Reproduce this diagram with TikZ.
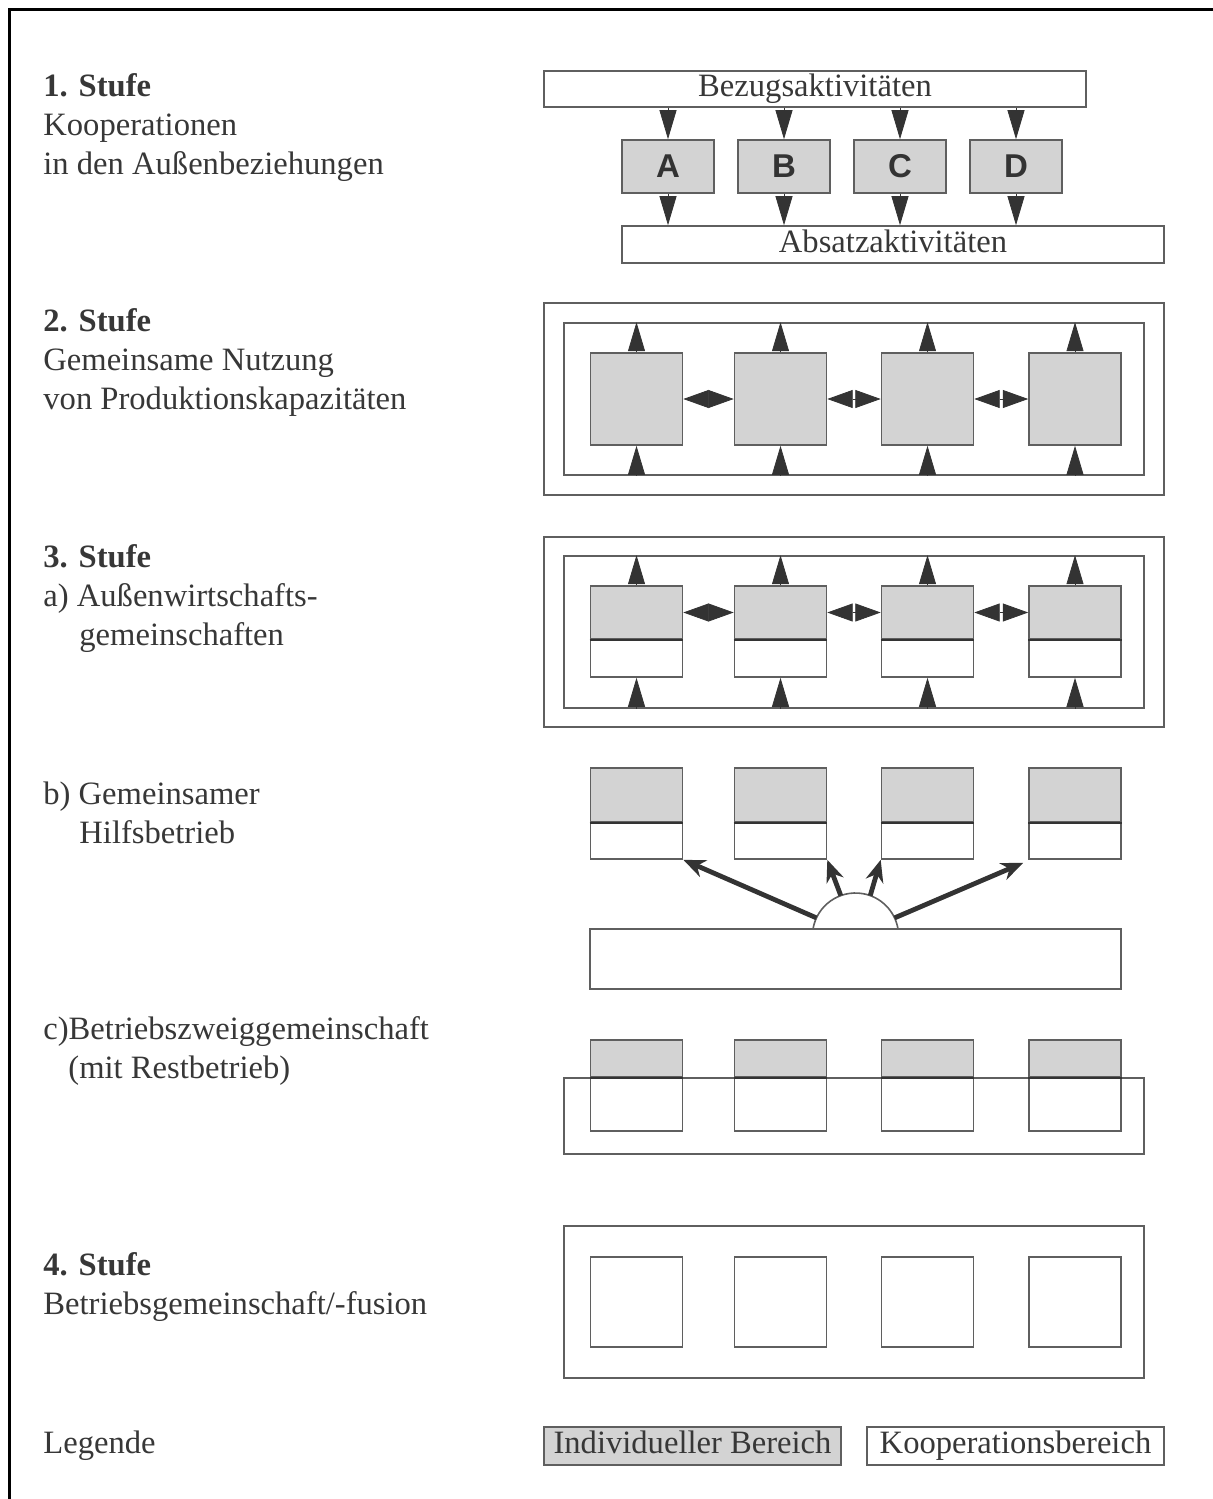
\documentclass[tikz,border=0pt]{standalone}
\usepackage{fontspec}
\setmainfont{Liberation Serif}
\newfontfamily\arialfont{Liberation Sans}
\usepackage{xcolor}
\usepackage{tikz}
\usetikzlibrary{calc, positioning, arrows.meta}

\definecolor{vien}{RGB}{95,95,95}
\definecolor{xam}{RGB}{211,211,211}
\definecolor{dam}{RGB}{51,51,51}
\definecolor{chu}{RGB}{55,55,55}

\tikzset{
  khung/.style={draw=vien, line width=0.8pt, inner sep=0pt},
  hopxam/.style={khung, fill=xam, minimum width=46pt},
  hoptrang/.style={khung, fill=white, minimum width=46pt},
  muiten/.style={draw=dam, line width=0.4pt, -{Triangle[length=14.5pt, width=8.5pt]}},
  muidoi/.style={draw=dam, line width=0.4pt, {Triangle[length=12.7pt, width=9pt]}-{Triangle[length=12.7pt, width=9pt]}},
  muidam/.style={draw=dam, line width=2.4pt, -{Stealth[length=11pt, width=9pt]}},
  chutrai/.style={anchor=north west, align=left, inner sep=0pt, text=chu}
}

\begin{document}
\begin{tikzpicture}[x=0.5pt, y=-0.5pt, font=\fontsize{16.3}{19.5}\selectfont]
    \useasboundingbox (0,0) rectangle (1213,1499);
    % Khung ngoài (chỉ cạnh trái và cạnh trên)
    \draw[line width=1.5pt, black] (9,1499) -- (9,9) -- (1213,9);

    % --- CỘT TRÁI: CÁC NHÃN ---
    \node[chutrai] (t1) at (43,73) {\textbf{1. Stufe}\\Kooperationen\\in den Außenbeziehungen};
    \node[chutrai] (t2) at (43,308) {\textbf{2. Stufe}\\Gemeinsame Nutzung\\von Produktionskapazitäten};
    \node[chutrai] (t3a) at (43,544) {\textbf{3. Stufe}\\a) Außenwirtschafts-\\\hspace*{18pt}gemeinschaften};
    \node[chutrai] (t3b) at (43,781) {b) Gemeinsamer\\\hspace*{18pt}Hilfsbetrieb};
    \node[chutrai] (t3c) at (43,1016) {c)Betriebszweiggemeinschaft\\\hspace*{12.5pt}(mit Restbetrieb)};
    \node[chutrai] (t4) at (43,1252) {\textbf{4. Stufe}\\Betriebsgemeinschaft/-fusion};
    \node[chutrai] (tleg) at (43,1430) {Legende};

    % --- HÌNH 1: BEZUG / ABSATZ ---
    \node[khung, minimum width=271pt, minimum height=18pt, text=chu, text height=11pt, text depth=3.5pt] (bezug) at (815,89) {Bezugsaktivitäten};
    \node[khung, minimum width=271pt, minimum height=18.5pt, text=chu, text height=11pt, text depth=3.5pt] (absatz) at (893,244.5) {Absatzaktivitäten};
    \foreach \n/\x in {A/668, B/784, C/900, D/1016} {
        \node[hopxam, minimum height=26.5pt, text=dam, font=\arialfont\bfseries\fontsize{16.5}{16.5}\selectfont] (\n) at (\x,166.5) {\n};
        \draw[muiten] (\n.north |- bezug.south) -- (\n.north);
        \draw[muiten] (\n.south) -- (\n.south |- absatz.north);
    }

    % --- HÌNH 2: GEMEINSAME NUTZUNG ---
    \node[khung, minimum width=310pt, minimum height=96pt] (ngoai2) at (854,399) {};
    \node[khung, minimum width=290pt, minimum height=76pt] (trong2) at (854,399) {};
    \foreach \i/\x in {1/636.5, 2/780.5, 3/927.5, 4/1075} {
        \node[hopxam, minimum height=46pt] (q\i) at (\x,399) {};
        \draw[muiten] (q\i.south |- trong2.south) -- (q\i.south);
        \draw[muiten] (q\i.north) -- (q\i.north |- trong2.north);
    }
    \draw[muidoi] (q1.east) -- (q2.west);
    \draw[muidoi] (q2.east) -- (q3.west);
    \draw[muidoi] (q3.east) -- (q4.west);

    % --- HÌNH 3a: AUSSENWIRTSCHAFTSGEMEINSCHAFTEN ---
    \node[khung, minimum width=310pt, minimum height=95pt] (ngoai3) at (854,632) {};
    \node[khung, minimum width=290pt, minimum height=76pt] (trong3) at (854,632) {};
    \foreach \i/\x in {1/636.5, 2/780.5, 3/927.5, 4/1075} {
        \node[hopxam, minimum height=26.5pt] (ax\i) at (\x,612.5) {};
        \node[hoptrang, minimum height=19pt] (aw\i) at (\x,658) {};
        \draw[dam, line width=0.9pt] (ax\i.south west) -- (ax\i.south east);
        \draw[muiten] (aw\i.south |- trong3.south) -- (aw\i.south);
        \draw[muiten] (ax\i.north) -- (ax\i.north |- trong3.north);
    }
    \draw[muidoi] (ax1.east) -- (ax2.west);
    \draw[muidoi] (ax2.east) -- (ax3.west);
    \draw[muidoi] (ax3.east) -- (ax4.west);

    % --- HÌNH 3b: GEMEINSAMER HILFSBETRIEB ---
    \foreach \i/\x in {1/636.5, 2/780.5, 3/927.5, 4/1075} {
        \node[hopxam, minimum height=27pt] (bx\i) at (\x,795) {};
        \node[hoptrang, minimum height=18.5pt] (bw\i) at (\x,840.5) {};
        \draw[dam, line width=0.9pt] (bx\i.south west) -- (bx\i.south east);
    }
    \node[khung, minimum width=265.5pt, minimum height=30pt] (hilfs) at (855.5,959) {};
    % Nửa hình tròn trên cạnh trên
    \coordinate (tam) at (855.5,936.1);
    \draw[vien, line width=0.8pt] ($(tam)+(189.5:43.1)$) arc[start angle=189.5, end angle=350.5, radius=43.1];
    \coordinate (g1) at ($(tam)+(205:43.1)$);
    \coordinate (g2) at ($(tam)+(250:43.1)$);
    \coordinate (g3) at ($(tam)+(290:43.1)$);
    \coordinate (g4) at ($(tam)+(335:43.1)$);
    \draw[muidam] (g1) -- (bw1.south east);
    \draw[muidam] (g2) -- (bw2.south east);
    \draw[muidam] (g3) -- (bw3.south west);
    \draw[muidam] (g4) -- ($(bw4.south west)+(-5,3)$);

    % --- HÌNH 3c: BETRIEBSZWEIGGEMEINSCHAFT ---
    \node[khung, minimum width=290pt, minimum height=38pt] (rest) at (854,1116) {};
    \foreach \i/\x in {1/636.5, 2/780.5, 3/927.5, 4/1075} {
        \node[hopxam, minimum height=18.5pt] (cx\i) at (\x,1058.5) {};
        \node[hoptrang, minimum height=27pt] (cw\i) at (\x,1104) {};
        \draw[dam, line width=0.9pt] (cx\i.south west) -- (cx\i.south east);
    }

    % --- HÌNH 4: BETRIEBSGEMEINSCHAFT ---
    \node[khung, minimum width=290pt, minimum height=76pt] (fusion) at (854,1302) {};
    \foreach \i/\x in {1/636.5, 2/780.5, 3/927.5, 4/1075} {
        \node[hoptrang, minimum height=45pt] (f\i) at (\x,1302) {};
    }

    % --- CHÚ GIẢI ---
    \node[khung, fill=xam, minimum width=148.5pt, minimum height=19pt, text=chu, text height=11pt, text depth=3.5pt] (indiv) at (692.5,1446) {Individueller Bereich};
    \node[khung, minimum width=148.5pt, minimum height=19pt, text=chu, text height=11pt, text depth=3.5pt] (koop) at (1015.5,1446) {Kooperationsbereich};
\end{tikzpicture}
\end{document}
